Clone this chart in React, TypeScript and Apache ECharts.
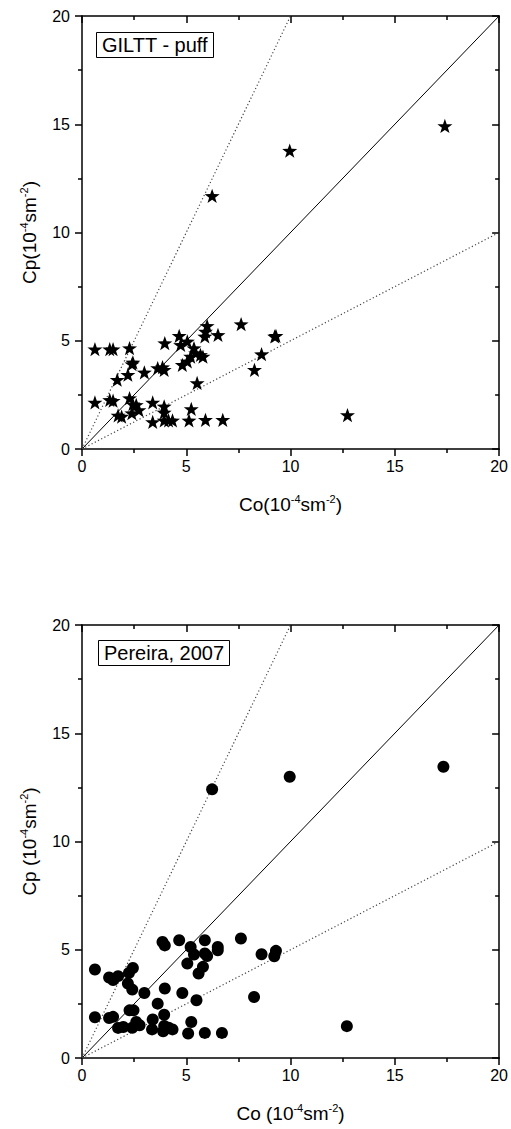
import React, { useEffect, useRef } from "react";
import * as echarts from "echarts";

// GILTT - puff (top panel): observed Co vs predicted Cp (10^-4 s m^-2)
const gilttCo = [0.62, 1.33, 1.49, 2.28, 0.62, 1.33, 1.49, 1.69, 2.2, 2.44, 2.4, 2.99, 2.28, 1.73, 1.9, 2.39, 2.6, 2.73, 2.44, 3.39, 3.39, 3.63, 3.86, 3.94, 3.97, 3.94, 3.94, 3.94, 4.15, 4.34, 4.66, 4.73, 4.81, 5.05, 5.05, 5.21, 5.37, 5.45, 5.13, 5.24, 5.52, 5.68, 5.8, 5.89, 5.92, 6.0, 5.92, 6.52, 6.75, 7.63, 8.27, 8.61, 9.24, 9.3, 12.73, 9.96, 17.4, 6.24];
const gilttCp = [4.61, 4.61, 4.61, 4.66, 2.15, 2.27, 2.23, 3.2, 3.43, 4.0, 3.92, 3.54, 2.35, 1.55, 1.5, 1.66, 2.04, 1.8, 2.07, 2.15, 1.25, 3.74, 3.78, 3.66, 4.89, 1.97, 1.69, 1.32, 1.32, 1.32, 5.23, 4.81, 3.89, 4.97, 4.05, 4.27, 4.66, 4.43, 1.32, 1.85, 3.05, 4.35, 4.27, 5.2, 5.43, 5.69, 1.35, 5.27, 1.35, 5.77, 3.66, 4.38, 5.2, 5.23, 1.57, 13.78, 14.92, 11.69];

// Pereira, 2007 (bottom panel)
const pereiraCo = [0.62, 0.62, 1.3, 1.49, 1.73, 1.3, 1.49, 1.73, 1.98, 2.25, 2.44, 2.2, 2.41, 2.28, 2.47, 2.41, 2.6, 2.76, 2.99, 3.39, 3.36, 3.63, 3.86, 3.97, 3.97, 3.94, 3.89, 3.94, 4.15, 4.34, 4.66, 4.81, 5.05, 5.21, 5.37, 5.09, 5.24, 5.49, 5.59, 5.8, 5.89, 5.89, 6.0, 5.89, 6.51, 6.51, 6.71, 7.62, 8.25, 8.61, 9.22, 9.3, 12.7, 6.24, 9.96, 17.33];
const pereiraCp = [4.09, 1.88, 3.72, 3.6, 3.78, 1.85, 1.9, 1.39, 1.43, 3.93, 4.16, 3.44, 3.16, 2.2, 2.2, 1.4, 1.66, 1.51, 3.0, 1.78, 1.32, 2.51, 5.36, 5.2, 3.21, 2.0, 1.23, 1.48, 1.4, 1.32, 5.44, 3.0, 4.36, 5.13, 4.78, 1.13, 1.66, 2.67, 3.9, 4.21, 5.44, 4.83, 4.71, 1.16, 5.13, 4.98, 1.16, 5.52, 2.82, 4.79, 4.7, 4.95, 1.47, 12.41, 12.99, 13.45];

// reference lines: 1:1, factor-of-2 bounds
const lineOneToOne = [[0, 0], [20, 20]];
const lineFactorTwoUpper = [[0, 0], [10, 20]];
const lineFactorTwoLower = [[0, 0], [20, 10]];

const axisMin = 0;
const axisMax = 20;
const axisInterval = 5;

const FONT = "'Liberation Sans', Arial, Helvetica, sans-serif";
const STAR = "path://M0,-10 L2.35,-3.24 L9.51,-3.09 L3.8,1.24 L5.88,8.09 L0,4 L-5.88,8.09 L-3.8,1.24 L-9.51,-3.09 L-2.35,-3.24 Z";

const zip = (xs: number[], ys: number[]) => xs.map((x, i) => [x, ys[i]]);

const nameRich = {
  b: { fontSize: 19, fontFamily: FONT, color: "#000", lineHeight: 22 },
  s: { fontSize: 11, fontFamily: FONT, color: "#000", lineHeight: 12, verticalAlign: "top" },
};

const tickStyle = { color: "#000", width: 1.5 };

function mainX(grid: number, name: string) {
  return {
    type: "value", gridIndex: grid, position: "bottom", min: axisMin, max: axisMax, interval: axisInterval,
    name, nameLocation: "middle", nameGap: 44, nameTextStyle: { rich: nameRich },
    axisLine: { onZero: false, lineStyle: tickStyle },
    axisTick: { show: true, inside: false, length: 7, lineStyle: tickStyle },
    minorTick: { show: true, splitNumber: 2, length: 4, lineStyle: tickStyle },
    axisLabel: { color: "#000", fontSize: 16, fontFamily: FONT, margin: 9 },
    splitLine: { show: false },
  };
}
function mirrorX(grid: number) {
  return {
    type: "value", gridIndex: grid, position: "top", min: axisMin, max: axisMax, interval: axisInterval,
    axisLine: { onZero: false, lineStyle: tickStyle },
    axisTick: { show: true, inside: true, length: 7, lineStyle: tickStyle },
    minorTick: { show: true, splitNumber: 2, length: 4, lineStyle: tickStyle },
    axisLabel: { show: false },
    splitLine: { show: false },
  };
}
function mainY(grid: number, name: string) {
  return {
    type: "value", gridIndex: grid, position: "left", min: axisMin, max: axisMax, interval: axisInterval,
    name, nameLocation: "middle", nameGap: 42, nameTextStyle: { rich: nameRich },
    axisLine: { onZero: false, lineStyle: tickStyle },
    axisTick: { show: true, inside: false, length: 7, lineStyle: tickStyle },
    minorTick: { show: true, splitNumber: 2, length: 4, lineStyle: tickStyle },
    axisLabel: { color: "#000", fontSize: 16, fontFamily: FONT, margin: 12 },
    splitLine: { show: false },
  };
}
function mirrorY(grid: number) {
  return {
    type: "value", gridIndex: grid, position: "right", min: axisMin, max: axisMax, interval: axisInterval,
    axisLine: { onZero: false, lineStyle: tickStyle },
    axisTick: { show: true, inside: true, length: 7, lineStyle: tickStyle },
    minorTick: { show: true, splitNumber: 2, length: 4, lineStyle: tickStyle },
    axisLabel: { show: false },
    splitLine: { show: false },
  };
}

function refLines(xi: number, yi: number) {
  return [
    { type: "line", xAxisIndex: xi, yAxisIndex: yi, data: lineOneToOne, symbol: "none", silent: true,
      lineStyle: { color: "#000", width: 1, type: "solid" }, z: 1 },
    { type: "line", xAxisIndex: xi, yAxisIndex: yi, data: lineFactorTwoUpper, symbol: "none", silent: true,
      lineStyle: { color: "#444", width: 1.2, type: [1.2, 2.4] }, z: 1 },
    { type: "line", xAxisIndex: xi, yAxisIndex: yi, data: lineFactorTwoLower, symbol: "none", silent: true,
      lineStyle: { color: "#444", width: 1.2, type: [1.2, 2.4] }, z: 1 },
  ];
}

export default function App() {
  const ref = useRef<HTMLDivElement>(null);
  useEffect(() => {
    if (!ref.current) return;
    const chart = echarts.init(ref.current, null, { renderer: "svg" });
    chart.setOption({
      animation: false,
      backgroundColor: "#fff",
      title: [
        { text: "GILTT - puff", left: 96, top: 32, borderColor: "#000", borderWidth: 1, padding: [3, 6],
          textStyle: { fontSize: 20, fontWeight: "normal", color: "#000", fontFamily: FONT } },
        { text: "Pereira, 2007", left: 98, top: 640, borderColor: "#000", borderWidth: 1, padding: [3, 6],
          textStyle: { fontSize: 20, fontWeight: "normal", color: "#000", fontFamily: FONT } },
      ],
      grid: [
        { left: 82, top: 16, width: 421, height: 433 },
        { left: 82, top: 625, width: 421, height: 433 },
      ],
      xAxis: [
        mainX(0, "{b|Co(10}{s|-4}{b|sm}{s|-2}{b|)}"),
        mirrorX(0),
        mainX(1, "{b|Co (10}{s|-4}{b|sm}{s|-2}{b|)}"),
        mirrorX(1),
      ],
      yAxis: [
        mainY(0, "{b|Cp(10}{s|-4}{b|sm}{s|-2}{b|)}"),
        mirrorY(0),
        mainY(1, "{b|Cp (10}{s|-4}{b|sm}{s|-2}{b|)}"),
        mirrorY(1),
      ],
      series: [
        ...refLines(0, 0),
        { type: "scatter", xAxisIndex: 0, yAxisIndex: 0, data: zip(gilttCo, gilttCp), symbol: STAR,
          symbolSize: 15, symbolKeepAspect: true, itemStyle: { color: "#000", opacity: 1 }, z: 3 },
        ...refLines(2, 2),
        { type: "scatter", xAxisIndex: 2, yAxisIndex: 2, data: zip(pereiraCo, pereiraCp), symbol: "circle",
          symbolSize: 12, itemStyle: { color: "#000", opacity: 1 }, z: 3 },
      ],
    });
    return () => chart.dispose();
  }, []);
  return <div ref={ref} style={{ position: "absolute", left: 0, top: 0, width: 511, height: 1129 }} />;
}
